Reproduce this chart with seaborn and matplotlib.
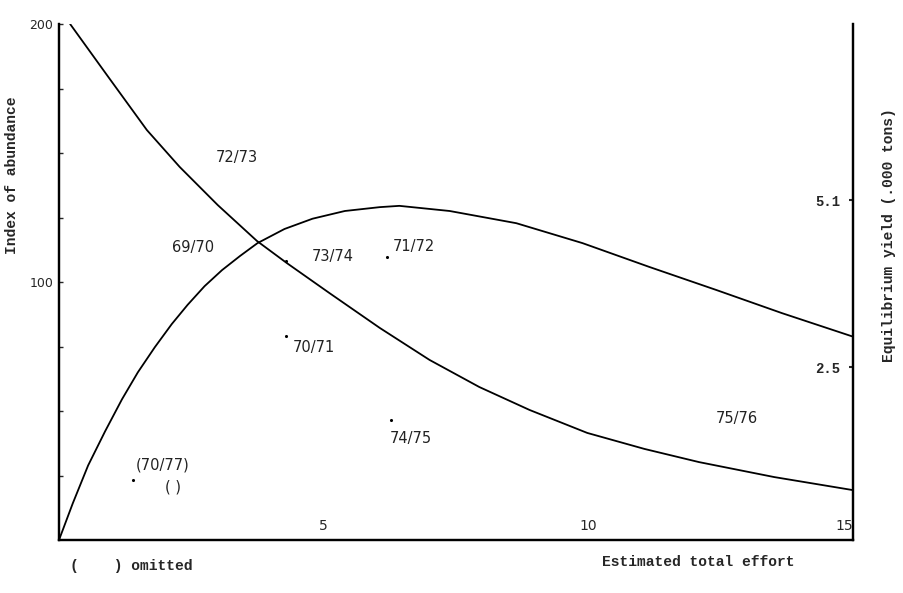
import matplotlib
matplotlib.use('Agg')
import matplotlib.pyplot as plt
import seaborn as sns
import pandas as pd

# ---------------- Data ----------------
# abundance curve (left axis)
abund_effort = [0.21, 0.92, 1.66, 2.28, 3.00, 3.74, 4.30, 5.11, 6.06, 7.00, 7.94,
                8.89, 9.98, 11.06, 12.09, 13.51, 14.98]
abund_index = [200.0, 179.8, 158.9, 144.6, 129.8, 115.9, 107.4, 95.7, 82.2, 69.8, 59.3,
               50.4, 41.5, 35.3, 30.2, 24.4, 19.4]

# equilibrium yield curve (right axis, '000 tons)
yield_effort = [0.0, 0.26, 0.55, 0.87, 1.19, 1.49, 1.81, 2.13, 2.43, 2.75, 3.08, 3.42,
                3.75, 4.26, 4.79, 5.40, 6.06, 6.43, 7.38, 8.64, 9.89, 11.15, 12.42,
                13.66, 14.98]
yield_tons = [-0.19, 0.38, 0.97, 1.50, 2.00, 2.42, 2.81, 3.17, 3.47, 3.76, 4.01, 4.23,
              4.43, 4.65, 4.81, 4.93, 4.99, 5.01, 4.93, 4.74, 4.43, 4.06, 3.70,
              3.34, 2.98]

# observed seasons (dots) on the abundance scale
pt_effort = [4.28, 6.19, 4.28, 6.28, 1.40]
pt_index = [108.1, 109.7, 79.1, 46.5, 23.3]

# season labels: text, effort, index, alignment
lab_text = ["72/73", "69/70", "73/74", "71/72", "70/71", "74/75", "75/76", "(70/77)", "( )"]
lab_x = [3.36, 2.53, 4.77, 6.30, 4.42, 6.25, 12.81, 1.96, 2.15]
lab_y = [148.1, 113.2, 109.7, 113.6, 74.8, 39.5, 46.9, 29.1, 20.5]
lab_ha = ["center", "center", "left", "left", "left", "left", "center", "center", "center"]

x_ticks = [5, 10, 15]
left_ticks = [100, 200]
right_ticks = [2.5, 5.1]

sns.set_theme(style="white")
plt.rcParams['font.family'] = ['DejaVu Sans']
mono = ['Liberation Mono', 'DejaVu Sans Mono']

fig = plt.figure(figsize=(9.04, 5.93), dpi=100)
ax = fig.add_axes([59/904, 53/593, 794/904, 516/593])
ax2 = ax.twinx()

df_a = pd.DataFrame({"effort": abund_effort, "index": abund_index})
df_y = pd.DataFrame({"effort": yield_effort, "yield": yield_tons})
df_p = pd.DataFrame({"effort": pt_effort, "index": pt_index})

sns.lineplot(data=df_a, x="effort", y="index", ax=ax, color="black", lw=1.3, sort=False)
sns.scatterplot(data=df_p, x="effort", y="index", ax=ax, color="black", s=5, linewidth=0)
sns.lineplot(data=df_y, x="effort", y="yield", ax=ax2, color="black", lw=1.3, sort=False)

for t, x, y, ha in zip(lab_text, lab_x, lab_y, lab_ha):
    ax.text(x, y, t, ha=ha, va="center", fontsize=10.5, color="#222222")

ax.set_xlim(0, 15)
ax.set_ylim(0, 200)
ax2.set_ylim(-0.19, 7.84)

for a in (ax, ax2):
    a.spines['top'].set_visible(False)
    for s in ('left', 'bottom', 'right'):
        a.spines[s].set_linewidth(1.6)
        a.spines[s].set_color('black')

ax.set_xticks(x_ticks)
ax.set_xticklabels([str(v) for v in x_ticks], fontsize=10)
ax.tick_params(axis='x', direction='in', length=0, pad=-15)
ax.get_xticklabels()[-1].set_ha('right')

ax.set_yticks(left_ticks)
ax.set_yticklabels([str(v) for v in left_ticks], fontsize=9)
ax.set_yticks([25, 50, 75, 125, 150, 175], minor=True)
ax.tick_params(axis='y', which='major', direction='in', length=3, width=1, left=True, pad=4)
ax.tick_params(axis='y', which='minor', direction='in', length=3, width=1, left=True)

ax2.set_yticks(right_ticks)
ax2.set_yticklabels([str(v) for v in right_ticks], fontsize=10, family=mono, fontweight='bold')
ax2.tick_params(axis='y', direction='in', length=3, width=1.5, right=True, pad=-9)
for lb in ax2.get_yticklabels():
    lb.set_ha('right')

ax.set_xlabel("Estimated total effort", family=mono, fontweight='bold', fontsize=10.5)
ax.xaxis.set_label_coords(0.805, -0.03)
ax.set_ylabel("Index of abundance", family=mono, fontweight='bold', fontsize=10.5)
ax.yaxis.set_label_coords(-0.05, 0.707)
ax2.set_ylabel("Equilibrium yield (.000 tons)", family=mono, fontweight='bold', fontsize=10.5)
ax2.yaxis.set_label_coords(1.036, 0.59)

fig.text(70/904, 1 - 566/593, "(    ) omitted", family=mono, fontweight='bold',
         fontsize=10.5, va='center', ha='left')

fig.savefig("out.png", dpi=100)
